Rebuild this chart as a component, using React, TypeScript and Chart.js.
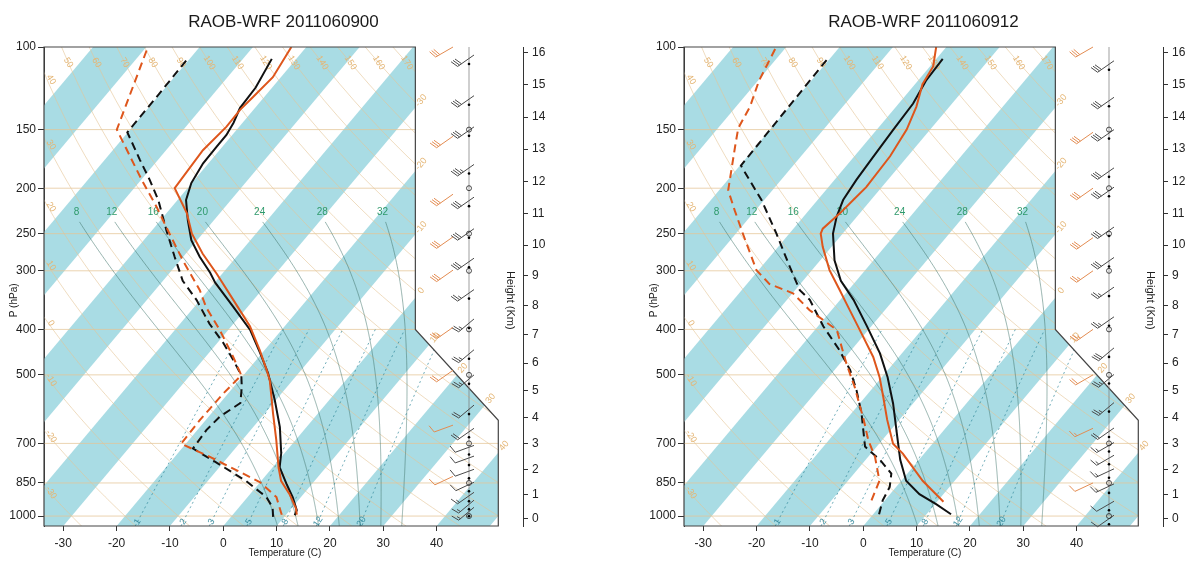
import React, { useEffect, useRef } from "react";
import { Chart, registerables } from "chart.js";

Chart.register(...registerables);

const FONT = "'Liberation Sans', Arial, Helvetica, sans-serif";

// ---------- diagram definitions ----------
const PRESSURE_TICKS = [100, 150, 200, 250, 300, 400, 500, 700, 850, 1000];
const PRESSURE_LINES = [1000, 850, 700, 500, 400, 300, 250, 200, 150];
const TEMPERATURE_TICKS = [-30, -20, -10, 0, 10, 20, 30, 40];
const HEIGHT_TICKS = [0, 1, 2, 3, 4, 5, 6, 7, 8, 9, 10, 11, 12, 13, 14, 15, 16];
const DRY_ADIABATS = [-30, -20, -10, 0, 10, 20, 30, 40, 50, 60, 70, 80, 90, 100, 110, 120, 130, 140, 150, 160, 170];
const MOIST_ADIABATS = [8, 12, 16, 20, 24, 28, 32];
const MIXING_RATIOS = [1, 2, 3, 5, 8, 12, 20];
const ISOTHERM_LABELS = [-30, -20, -10, 0, 10, 20, 30, 40];
const MANDATORY_LEVELS = [1000, 850, 700, 500, 400, 300, 250, 200, 150];

// ---------- panel A : 2011060900 ----------
const A_TITLE = "RAOB-WRF 2011060900";
const A_RAOB_T_P = [996, 972, 912, 852, 787, 735, 646, 566, 496, 449, 401, 358, 318, 303, 280, 258, 234, 212, 195, 177, 163, 154, 145, 135, 122, 106];
const A_RAOB_T = [11.7, 11.3, 8.5, 5.1, 1.3, -0.6, -5.0, -10.2, -15.7, -20.4, -25.9, -32.7, -39.9, -42.4, -46.9, -51.1, -54.9, -58.4, -60.1, -61.0, -61.1, -61.1, -61.7, -62.8, -63.1, -64.6];
const A_RAOB_TD_P = [1004, 958, 911, 841, 761, 718, 655, 614, 574, 530, 501, 465, 428, 389, 346, 315, 280, 246, 212, 192, 174, 152, 126, 106];
const A_RAOB_TD = [7.9, 6.3, 3.5, -2.9, -12.3, -17.9, -18.3, -17.9, -16.2, -18.5, -20.4, -24.3, -28.8, -34.5, -40.7, -46.3, -51.6, -57.3, -63.6, -68.4, -73.4, -80.1, -80.2, -80.4];
const A_WRF_T_P = [993, 962, 898, 841, 787, 689, 603, 513, 488, 443, 394, 346, 304, 276, 250, 226, 200, 166, 148, 136, 128, 116, 100];
const A_WRF_T = [12.0, 10.8, 7.4, 3.7, 1.1, -3.6, -8.5, -14.3, -16.5, -20.9, -26.5, -33.8, -41.1, -46.8, -52.0, -56.2, -62.4, -63.1, -62.4, -62.5, -62.1, -61.5, -62.8];
const A_WRF_TD_P = [994, 911, 846, 748, 701, 623, 548, 501, 458, 401, 359, 330, 285, 250, 219, 192, 150, 100];
const A_WRF_TD = [9.2, 5.4, -0.1, -13.4, -20.9, -21.1, -20.9, -20.4, -24.8, -31.6, -37.7, -41.6, -49.5, -56.2, -62.9, -69.9, -82.5, -89.7];
const A_RAOB_WIND_P = [104, 127, 148, 178, 209, 244, 282, 329, 380, 442, 500, 580, 650, 707, 745, 795, 847, 890, 925, 958];
const A_RAOB_WIND_SPD = [30, 30, 30, 35, 30, 30, 30, 25, 25, 25, 25, 20, 20, 10, 10, 10, 10, 15, 15, 15];
const A_RAOB_WIND_DIR = [235, 235, 235, 235, 235, 235, 235, 235, 230, 230, 230, 230, 235, 250, 250, 250, 245, 235, 230, 230];
const A_WRF_WIND_P = [100, 155, 206, 254, 299, 396, 489, 640, 823];
const A_WRF_WIND_SPD = [30, 30, 30, 30, 30, 25, 20, 10, 10];
const A_WRF_WIND_DIR = [240, 235, 235, 235, 235, 235, 235, 250, 245];

// ---------- panel B : 2011060912 ----------
const B_TITLE = "RAOB-WRF 2011060912";
const B_RAOB_T_P = [991, 943, 898, 841, 759, 665, 576, 506, 450, 394, 346, 315, 285, 250, 230, 212, 192, 171, 150, 132, 118, 106];
const B_RAOB_T = [14.6, 10.2, 5.5, 0.9, -3.5, -8.4, -13.7, -18.9, -24.1, -30.8, -37.5, -42.9, -47.3, -51.8, -53.8, -55.2, -55.9, -56.4, -56.9, -57.3, -58.5, -58.8];
const B_RAOB_TD_P = [991, 926, 867, 812, 759, 722, 711, 604, 539, 488, 443, 394, 346, 330, 294, 250, 212, 179, 106];
const B_RAOB_TD = [1.1, -0.4, -1.2, -3.0, -7.3, -11.1, -12.2, -18.1, -22.7, -27.1, -32.2, -39.0, -45.7, -49.1, -54.7, -62.4, -70.5, -79.8, -80.4];
const B_WRF_T_P = [932, 841, 736, 701, 623, 556, 506, 458, 401, 352, 330, 299, 267, 250, 244, 226, 212, 199, 171, 150, 134, 120, 110, 100];
const B_WRF_T = [11.2, 4.0, -4.0, -7.4, -12.3, -16.7, -20.4, -24.8, -31.6, -38.3, -41.6, -46.7, -51.6, -54.1, -54.5, -53.7, -53.3, -52.9, -53.3, -54.4, -56.2, -58.6, -59.4, -61.9];
const B_WRF_TD_P = [926, 841, 748, 689, 623, 530, 473, 401, 364, 335, 320, 299, 250, 223, 202, 163, 149, 134, 118, 100];
const B_WRF_TD = [-2.5, -4.1, -8.7, -12.6, -16.7, -23.6, -28.8, -35.9, -44.1, -49.9, -55.8, -60.4, -68.7, -73.9, -78.3, -83.9, -86.2, -87.4, -89.8, -91.9];
const B_RAOB_WIND_P = [107, 128, 150, 181, 199, 242, 281, 325, 376, 438, 499, 573, 649, 697, 742, 793, 854, 930, 996];
const B_RAOB_WIND_SPD = [30, 30, 30, 30, 30, 30, 30, 25, 25, 30, 25, 25, 20, 15, 15, 15, 15, 10, 10];
const B_RAOB_WIND_DIR = [235, 235, 235, 235, 235, 235, 235, 235, 235, 230, 230, 230, 235, 240, 240, 245, 245, 240, 235];
const B_WRF_WIND_P = [100, 152, 200, 255, 300, 400, 500, 650, 850];
const B_WRF_WIND_SPD = [30, 30, 30, 30, 25, 25, 20, 15, 10];
const B_WRF_WIND_DIR = [240, 235, 235, 235, 235, 235, 240, 245, 245];

// ---------- colours ----------
const BAND = "#a9dce4";
const TAN = "rgba(228,196,150,0.75)";
const TAN_TEXT = "#e4b574";
const MOIST = "rgba(70,120,112,0.8)";
const MIX = "rgba(40,130,150,0.85)";
const GREEN_TEXT = "#2f9a6c";
const BLACK = "#111111";
const ORANGE = "#de561c";
const AXIS = "#333333";

// ---------- skew-T coordinates ----------
const skewty = (p: number) => 132.182 - 44.061 * Math.log10(p);
const skewtx = (t: number, y: number) => 0.54 * t + 0.90692 * y;
const Y_TOP = skewty(100);
const Y_BOTTOM = skewty(1050);
const X_MIN = -19.0;
const X_MAX = 29.5;
const FRAME_RIGHT = skewtx(50, skewty(1000));
const KINK_X = skewtx(5, skewty(400));
const Y_KINK_TOP = skewty(400);
const Y_KINK_BOTTOM = skewty(625);

function stdPressure(zkm: number) {
  const z = zkm * 1000;
  if (z <= 11000) return 1013.25 * Math.pow(1 - 2.25577e-5 * z, 5.25588);
  return 226.32 * Math.exp(-(z - 11000) / 6341.6);
}
function tda(theta: number, p: number) {
  return (theta + 273.15) * Math.pow(p / 1000, 0.286) - 273.15;
}
function tmr(w: number, p: number) {
  const x = Math.log10((w * p) / (622 + w));
  return Math.pow(10, 0.0498646455 * x + 2.4082965) - 7.07475 + 38.9114 * Math.pow(Math.pow(10, 0.0915 * x) - 1.2035, 2) - 273.15;
}
function moistGradient(T: number, p: number) {
  const tc = T - 273.15;
  const es = 6.112 * Math.exp((17.67 * tc) / (tc + 243.5));
  const rs = (0.622 * es) / (p - es);
  const Rd = 287.04, Cp = 1005.7, Lv = 2.501e6;
  return ((Rd * T + Lv * rs) / p) / (Cp + (Lv * Lv * rs * 0.622) / (Rd * T * T));
}
function moistCurve(tw: number, pTop: number) {
  const step = (p0: number, T0: number, dp: number) => {
    const k1 = moistGradient(T0, p0);
    const k2 = moistGradient(T0 + (k1 * dp) / 2, p0 + dp / 2);
    return T0 + k2 * dp;
  };
  const lower: { p: number; t: number }[] = [{ p: 1000, t: tw }];
  let T = tw + 273.15, p = 1000;
  while (p < 1050) { T = step(p, T, 2); p += 2; lower.push({ p, t: T - 273.15 }); }
  lower.reverse();
  const upper: { p: number; t: number }[] = [];
  T = tw + 273.15; p = 1000;
  while (p > pTop) { T = step(p, T, -2); p -= 2; upper.push({ p, t: T - 273.15 }); }
  return lower.concat(upper);
}
const MOIST_CURVES = MOIST_ADIABATS.map((tw) => moistCurve(tw, 236));

function drawBarb(ctx: CanvasRenderingContext2D, x: number, y: number, speed: number, dir: number, color: string, len: number) {
  const r = (dir * Math.PI) / 180;
  const ux = Math.sin(r), uy = -Math.cos(r);
  const px = -uy, py = ux;
  ctx.strokeStyle = color;
  ctx.fillStyle = color;
  ctx.lineWidth = 1;
  ctx.beginPath();
  ctx.moveTo(x, y);
  ctx.lineTo(x + ux * len, y + uy * len);
  ctx.stroke();
  let s = Math.round(speed / 5) * 5;
  let pos = len;
  const fl = len * 0.38, gap = len * 0.12;
  while (s >= 50) {
    ctx.beginPath();
    ctx.moveTo(x + ux * pos, y + uy * pos);
    ctx.lineTo(x + ux * pos + px * fl, y + uy * pos + py * fl);
    ctx.lineTo(x + ux * (pos - gap * 1.5), y + uy * (pos - gap * 1.5));
    ctx.fill();
    pos -= gap * 2;
    s -= 50;
  }
  while (s >= 10) {
    ctx.beginPath();
    ctx.moveTo(x + ux * pos, y + uy * pos);
    ctx.lineTo(x + ux * pos + px * fl + ux * fl * 0.35, y + uy * pos + py * fl + uy * fl * 0.35);
    ctx.stroke();
    pos -= gap;
    s -= 10;
  }
  if (s >= 5) {
    ctx.beginPath();
    ctx.moveTo(x + ux * pos, y + uy * pos);
    ctx.lineTo(x + ux * pos + px * fl * 0.5 + ux * fl * 0.18, y + uy * pos + py * fl * 0.5 + uy * fl * 0.18);
    ctx.stroke();
  }
}

type Panel = {
  title: string;
  raobT: [number[], number[]];
  raobTd: [number[], number[]];
  wrfT: [number[], number[]];
  wrfTd: [number[], number[]];
  raobWind: [number[], number[], number[]];
  wrfWind: [number[], number[], number[]];
};

const PANELS: Panel[] = [
  {
    title: A_TITLE,
    raobT: [A_RAOB_T_P, A_RAOB_T],
    raobTd: [A_RAOB_TD_P, A_RAOB_TD],
    wrfT: [A_WRF_T_P, A_WRF_T],
    wrfTd: [A_WRF_TD_P, A_WRF_TD],
    raobWind: [A_RAOB_WIND_P, A_RAOB_WIND_SPD, A_RAOB_WIND_DIR],
    wrfWind: [A_WRF_WIND_P, A_WRF_WIND_SPD, A_WRF_WIND_DIR],
  },
  {
    title: B_TITLE,
    raobT: [B_RAOB_T_P, B_RAOB_T],
    raobTd: [B_RAOB_TD_P, B_RAOB_TD],
    wrfT: [B_WRF_T_P, B_WRF_T],
    wrfTd: [B_WRF_TD_P, B_WRF_TD],
    raobWind: [B_RAOB_WIND_P, B_RAOB_WIND_SPD, B_RAOB_WIND_DIR],
    wrfWind: [B_WRF_WIND_P, B_WRF_WIND_SPD, B_WRF_WIND_DIR],
  },
];

function profile(ps: number[], ts: number[], color: string, dashed: boolean) {
  return {
    data: ps.map((p, i) => ({ x: skewtx(ts[i], skewty(p)), y: skewty(p) })),
    borderColor: color,
    borderWidth: 2,
    borderDash: dashed ? [8, 5] : [],
    pointRadius: 0,
    showLine: true,
    fill: false,
    tension: 0,
  };
}

function makeConfig(panel: Panel, canvasWidth: number): any {
  const framePath = (ctx: CanvasRenderingContext2D, X: (v: number) => number, Y: (v: number) => number) => {
    ctx.beginPath();
    ctx.moveTo(X(X_MIN), Y(Y_TOP));
    ctx.lineTo(X(KINK_X), Y(Y_TOP));
    ctx.lineTo(X(KINK_X), Y(Y_KINK_TOP));
    ctx.lineTo(X(FRAME_RIGHT), Y(Y_KINK_BOTTOM));
    ctx.lineTo(X(FRAME_RIGHT), Y(Y_BOTTOM));
    ctx.lineTo(X(X_MIN), Y(Y_BOTTOM));
    ctx.closePath();
  };

  const background = {
    id: "skewBackground",
    beforeDatasetsDraw(chart: any) {
      const { ctx, scales } = chart;
      const X = (v: number) => scales.x.getPixelForValue(v);
      const Y = (v: number) => scales.y.getPixelForValue(v);
      const P = (t: number, p: number): [number, number] => {
        const yy = skewty(p);
        return [X(skewtx(t, yy)), Y(yy)];
      };
      ctx.save();
      framePath(ctx, X, Y);
      ctx.clip();
      // isotherm bands
      ctx.fillStyle = BAND;
      for (let t0 = -120; t0 <= 40; t0 += 20) {
        const a = P(t0, 1050), b = P(t0, 100), c = P(t0 + 10, 100), d = P(t0 + 10, 1050);
        ctx.beginPath();
        ctx.moveTo(a[0], a[1]);
        ctx.lineTo(b[0], b[1]);
        ctx.lineTo(c[0], c[1]);
        ctx.lineTo(d[0], d[1]);
        ctx.closePath();
        ctx.fill();
      }
      // pressure lines
      ctx.strokeStyle = TAN;
      ctx.lineWidth = 1;
      PRESSURE_LINES.forEach((p) => {
        ctx.beginPath();
        ctx.moveTo(X(X_MIN), Y(skewty(p)));
        ctx.lineTo(X(X_MAX), Y(skewty(p)));
        ctx.stroke();
      });
      // dry adiabats
      ctx.lineWidth = 0.8;
      DRY_ADIABATS.forEach((th) => {
        ctx.beginPath();
        for (let p = 100; p <= 1050; p += 10) {
          const q = P(tda(th, p), p);
          if (p === 100) ctx.moveTo(q[0], q[1]);
          else ctx.lineTo(q[0], q[1]);
        }
        ctx.stroke();
      });
      // moist adiabats
      ctx.strokeStyle = MOIST;
      ctx.lineWidth = 0.7;
      MOIST_CURVES.forEach((curve) => {
        ctx.beginPath();
        curve.forEach((pt, i) => {
          const q = P(pt.t, pt.p);
          if (i === 0) ctx.moveTo(q[0], q[1]);
          else ctx.lineTo(q[0], q[1]);
        });
        ctx.stroke();
      });
      // mixing ratio lines
      ctx.strokeStyle = MIX;
      ctx.lineWidth = 0.8;
      ctx.setLineDash([2, 3]);
      MIXING_RATIOS.forEach((w) => {
        ctx.beginPath();
        for (let p = 1050; p >= 400; p -= 10) {
          const q = P(tmr(w, p), p);
          if (p === 1050) ctx.moveTo(q[0], q[1]);
          else ctx.lineTo(q[0], q[1]);
        }
        ctx.stroke();
      });
      ctx.setLineDash([]);
      // mixing ratio labels
      ctx.fillStyle = MIX;
      ctx.font = `9px ${FONT}`;
      ctx.textAlign = "center";
      ctx.textBaseline = "middle";
      MIXING_RATIOS.forEach((w) => {
        const q = P(tmr(w, 1028), 1028);
        ctx.save();
        ctx.translate(q[0], q[1]);
        ctx.rotate(-1.0);
        ctx.fillText(String(w), 0, 0);
        ctx.restore();
      });
      ctx.restore();

      // moist adiabat labels
      ctx.save();
      ctx.fillStyle = GREEN_TEXT;
      ctx.font = `10px ${FONT}`;
      ctx.textAlign = "center";
      ctx.textBaseline = "middle";
      MOIST_CURVES.forEach((curve, i) => {
        const top = curve[curve.length - 1];
        const q = P(top.t, top.p);
        ctx.fillText(String(MOIST_ADIABATS[i]), q[0] - 3, Y(skewty(225)));
      });
      // dry adiabat labels
      ctx.fillStyle = TAN_TEXT;
      ctx.font = `9px ${FONT}`;
      DRY_ADIABATS.forEach((th) => {
        const tTop = tda(th, 100);
        const xTop = skewtx(tTop, Y_TOP);
        let lx: number, ly: number;
        if (xTop >= X_MIN && xTop <= KINK_X) {
          const q = P(tda(th, 108), 108);
          lx = q[0]; ly = q[1];
        } else if (xTop < X_MIN) {
          let pHit = 0;
          for (let p = 100; p <= 1050; p += 1) {
            if (skewtx(tda(th, p), skewty(p)) >= X_MIN) { pHit = p; break; }
          }
          if (!pHit) return;
          lx = X(X_MIN) + 7;
          ly = Y(skewty(pHit)) + 6;
        } else return;
        ctx.save();
        ctx.translate(lx, ly);
        ctx.rotate(1.0);
        ctx.fillText(String(th), 0, 0);
        ctx.restore();
      });
      // isotherm labels just outside the right border
      const ang = Math.atan2(Y(1) - Y(0), X(0.90692) - X(0));
      ISOTHERM_LABELS.forEach((t) => {
        let yv = (KINK_X - 0.54 * t) / 0.90692;
        let xv = KINK_X;
        if (yv > Y_TOP) return;
        if (yv < Y_KINK_TOP) {
          const k = (FRAME_RIGHT - KINK_X) / (Y_KINK_TOP - Y_KINK_BOTTOM);
          yv = (KINK_X + k * Y_KINK_TOP - 0.54 * t) / (0.90692 + k);
          xv = skewtx(t, yv);
          if (yv < Y_KINK_BOTTOM) {
            xv = FRAME_RIGHT;
            yv = (FRAME_RIGHT - 0.54 * t) / 0.90692;
          }
        }
        const lx = X(xv) + Math.cos(ang) * 9;
        const ly = Y(yv) + Math.sin(ang) * 9;
        ctx.save();
        ctx.translate(lx, ly);
        ctx.rotate(ang);
        ctx.fillText(String(t), 0, 0);
        ctx.restore();
      });
      ctx.restore();
    },
    afterDatasetsDraw(chart: any) {
      const { ctx, scales, chartArea } = chart;
      const X = (v: number) => scales.x.getPixelForValue(v);
      const Y = (v: number) => scales.y.getPixelForValue(v);
      ctx.save();
      framePath(ctx, X, Y);
      ctx.strokeStyle = "#444";
      ctx.lineWidth = 1.2;
      ctx.stroke();
      // station line
      const sx = chartArea.right - 54;
      ctx.strokeStyle = "#777";
      ctx.lineWidth = 0.7;
      ctx.beginPath();
      ctx.moveTo(sx, Y(Y_TOP));
      ctx.lineTo(sx, Y(skewty(1000)));
      ctx.stroke();
      // raob barbs
      const [rp, rs, rd] = panel.raobWind;
      rp.forEach((p, i) => drawBarb(ctx, sx + 5, Y(skewty(p)), rs[i], rd[i], "#4a4a4a", 20));
      ctx.fillStyle = "#000";
      rp.forEach((p) => {
        ctx.beginPath();
        ctx.arc(sx, Y(skewty(p)) + 9, 1.3, 0, Math.PI * 2);
        ctx.fill();
      });
      ctx.strokeStyle = "#222";
      ctx.lineWidth = 0.8;
      MANDATORY_LEVELS.forEach((p) => {
        ctx.beginPath();
        ctx.arc(sx, Y(skewty(p)), 2.5, 0, Math.PI * 2);
        ctx.stroke();
      });
      // wrf barbs
      const [wp, ws, wd] = panel.wrfWind;
      wp.forEach((p, i) => drawBarb(ctx, sx - 16, Y(skewty(p)), ws[i], wd[i], "#e38c52", 20));
      ctx.restore();
    },
  };

  return {
    type: "scatter",
    data: {
      datasets: [
        profile(panel.wrfT[0], panel.wrfT[1], ORANGE, false),
        profile(panel.wrfTd[0], panel.wrfTd[1], ORANGE, true),
        profile(panel.raobT[0], panel.raobT[1], BLACK, false),
        profile(panel.raobTd[0], panel.raobTd[1], BLACK, true),
      ],
    },
    options: {
      animation: false,
      responsive: false,
      maintainAspectRatio: false,
      layout: { padding: 0 },
      plugins: {
        legend: { display: false },
        tooltip: { enabled: false },
        title: {
          display: true,
          text: panel.title,
          fullSize: false,
          color: "#1a1a1a",
          font: { family: FONT, size: 17, weight: "normal" },
          padding: { top: 12, bottom: 14.6 },
        },
      },
      scales: {
        x: {
          type: "linear",
          position: "bottom",
          min: X_MIN,
          max: X_MAX,
          afterFit: (s: any) => { s.height = 36; },
          afterBuildTicks: (s: any) => { s.ticks = TEMPERATURE_TICKS.map((t) => ({ value: skewtx(t, Y_BOTTOM) })); },
          ticks: {
            autoSkip: false,
            maxRotation: 0,
            padding: 5,
            color: "#222",
            font: { family: FONT, size: 12 },
            callback: (_v: any, i: number) => String(TEMPERATURE_TICKS[i]),
          },
          grid: { display: true, drawOnChartArea: false, drawTicks: true, tickLength: 5, color: AXIS },
          border: { display: false },
        },
        y: {
          type: "linear",
          position: "left",
          min: Y_BOTTOM,
          max: Y_TOP,
          afterFit: (s: any) => { s.width = 44; },
          afterBuildTicks: (s: any) => { s.ticks = PRESSURE_TICKS.map((p) => ({ value: skewty(p) })); },
          ticks: {
            autoSkip: false,
            padding: 2,
            color: "#222",
            font: { family: FONT, size: 12 },
            callback: (_v: any, i: number) => String(PRESSURE_TICKS[i]),
          },
          grid: { display: true, drawOnChartArea: false, drawTicks: true, tickLength: 6, color: AXIS },
          border: { display: true, color: AXIS },
          title: {
            display: true,
            text: "P (hPa)          ",
            color: "#222",
            font: { family: FONT, size: 10 },
            padding: { top: 8, bottom: 0 },
          },
        },
        yHeight: {
          type: "linear",
          axis: "y",
          position: "right",
          min: Y_BOTTOM,
          max: Y_TOP,
          afterFit: (s: any) => { s.width = canvasWidth - 523; },
          afterBuildTicks: (s: any) => { s.ticks = HEIGHT_TICKS.map((z) => ({ value: skewty(stdPressure(z)) })); },
          ticks: {
            autoSkip: false,
            padding: 4,
            color: "#222",
            font: { family: FONT, size: 12 },
            callback: (_v: any, i: number) => String(HEIGHT_TICKS[i]),
          },
          grid: { display: true, drawOnChartArea: false, drawTicks: true, tickLength: 5, color: AXIS },
          border: { display: true, color: AXIS },
          title: {
            display: true,
            text: "         Height (Km)",
            color: "#222",
            font: { family: FONT, size: 11 },
            padding: { top: canvasWidth - 510 - 6.6, bottom: 0 },
          },
        },
      },
    },
    plugins: [background],
  };
}

function SkewTPanel({ panel, left, width }: { panel: Panel; left: number; width: number }) {
  const ref = useRef<HTMLCanvasElement>(null);
  useEffect(() => {
    const chart = new Chart(ref.current as HTMLCanvasElement, makeConfig(panel, width));
    return () => chart.destroy();
  }, [panel, width]);
  return (
    <canvas
      ref={ref}
      width={width}
      height={562}
      style={{ position: "absolute", left, top: 0, width, height: 562 }}
    />
  );
}

export default function App() {
  return (
    <div style={{ position: "absolute", left: 0, top: 0, width: 1194, height: 562, background: "#fff", overflow: "hidden" }}>
      <SkewTPanel panel={PANELS[0]} left={0} width={600} />
      <SkewTPanel panel={PANELS[1]} left={640} width={554} />
      <div
        style={{ position: "absolute", left: 200, top: 547, width: 170, textAlign: "center", font: `10px ${FONT}`, color: "#222" }}
      >
        Temperature (C)
      </div>
      <div
        style={{ position: "absolute", left: 840, top: 547, width: 170, textAlign: "center", font: `10px ${FONT}`, color: "#222" }}
      >
        Temperature (C)
      </div>
    </div>
  );
}
